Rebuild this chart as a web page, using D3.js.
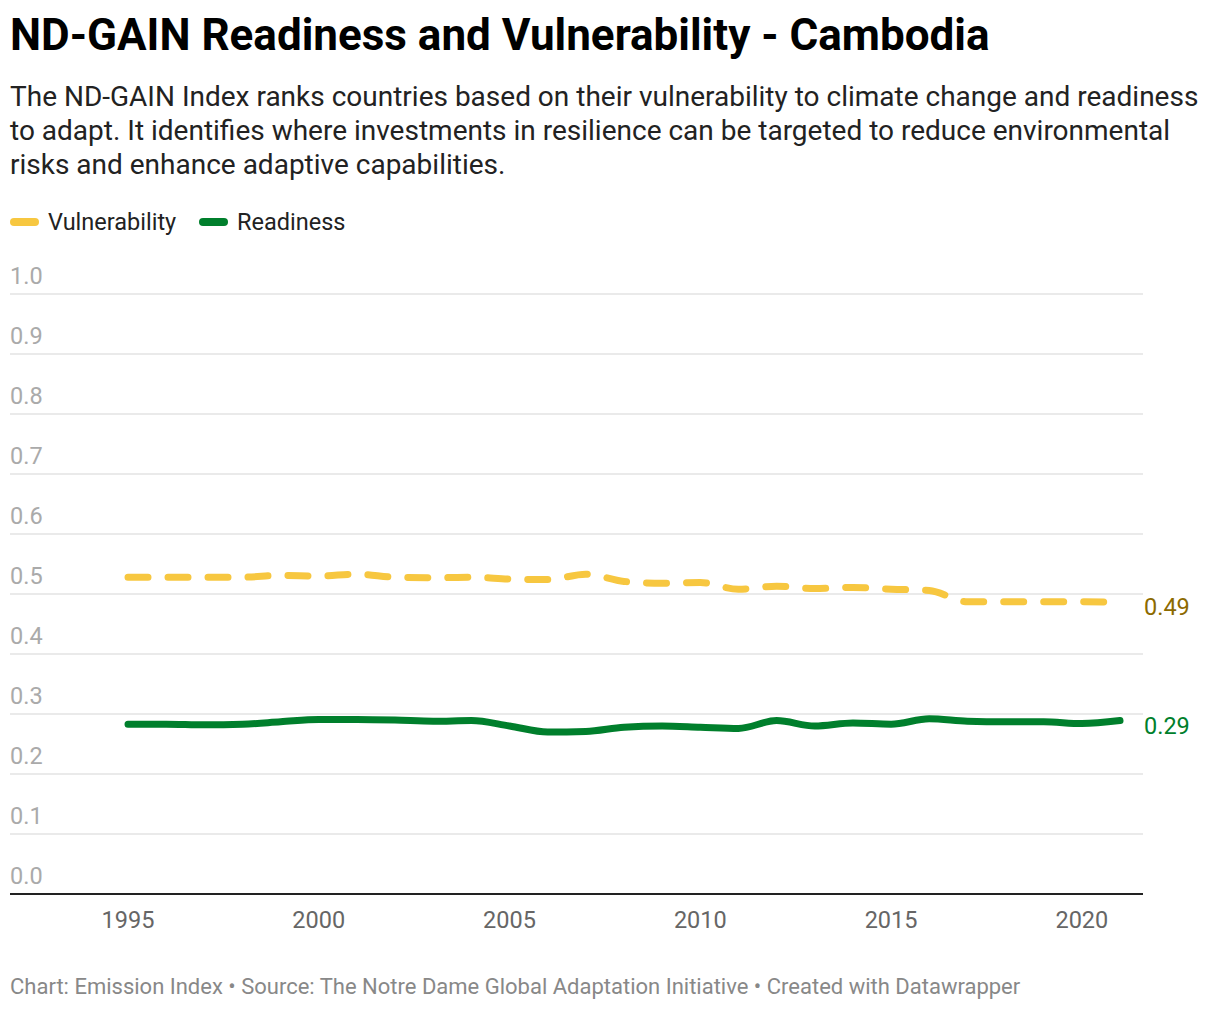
<!DOCTYPE html>
<html>
<head>
<meta charset="utf-8">
<script src="https://cdn.jsdelivr.net/npm/d3@7"></script>
<style>
  body { margin: 0; background: #fff; font-family: Roboto, "Noto Sans", sans-serif; }
</style>
</head>
<body>
<script>
// ND-GAIN scores for Cambodia
var years = [1995,1996,1997,1998,1999,2000,2001,2002,2003,2004,2005,2006,2007,2008,
             2009,2010,2011,2012,2013,2014,2015,2016,2017,2018,2019,2020,2021];
var vulnerability = [0.528,0.528,0.528,0.528,0.531,0.530,0.533,0.528,0.527,0.528,0.525,0.524,0.533,0.521,
                     0.518,0.519,0.508,0.513,0.509,0.511,0.508,0.506,0.487,0.487,0.487,0.487,0.486];
var readiness = [0.283,0.283,0.282,0.283,0.287,0.291,0.291,0.290,0.288,0.289,0.280,0.270,0.271,0.278,
                 0.280,0.278,0.276,0.289,0.280,0.285,0.283,0.292,0.288,0.287,0.287,0.284,0.289];
var yTicks = [0,0.1,0.2,0.3,0.4,0.5,0.6,0.7,0.8,0.9,1.0];
var xTicks = [1995,2000,2005,2010,2015,2020];

var width = 1220, height = 1010;
var plotLeft = 10, plotRight = 1143, plotTop = 294, plotBottom = 894;

var svg = d3.select("body").append("svg")
    .attr("width", width)
    .attr("height", height);

svg.append("text")
    .attr("x", 10).attr("y", 50)
    .attr("font-size", "44px").attr("font-weight", "700")
    .attr("fill", "#000")
    .text("ND-GAIN Readiness and Vulnerability - Cambodia");

var sub = ["The ND-GAIN Index ranks countries based on their vulnerability to climate change and readiness",
           "to adapt. It identifies where investments in resilience can be targeted to reduce environmental",
           "risks and enhance adaptive capabilities."];
svg.selectAll("text.sub").data(sub).enter().append("text")
    .attr("class", "sub")
    .attr("x", 10).attr("y", function(d, i) { return 106 + i * 34; })
    .attr("font-size", "28px").attr("fill", "#222")
    .text(function(d) { return d; });

// legend
var legend = [{name: "Vulnerability", color: "#f7c740", x: 10},
              {name: "Readiness", color: "#007f2c", x: 199}];
legend.forEach(function(l) {
  svg.append("line")
      .attr("x1", l.x + 4).attr("x2", l.x + 25)
      .attr("y1", 222).attr("y2", 222)
      .attr("stroke", l.color).attr("stroke-width", 8)
      .attr("stroke-linecap", "round");
  svg.append("text")
      .attr("x", l.x + 38).attr("y", 230)
      .attr("font-size", "23.5px").attr("fill", "#222")
      .text(l.name);
});

var x = d3.scaleLinear().domain([1995, 2021]).range([128, 1120]);
var y = d3.scaleLinear().domain([0, 1]).range([plotBottom, plotTop]);

// grid
svg.selectAll("line.grid").data(yTicks.slice(1)).enter().append("line")
    .attr("class", "grid")
    .attr("x1", plotLeft).attr("x2", plotRight)
    .attr("y1", function(d) { return y(d); })
    .attr("y2", function(d) { return y(d); })
    .attr("stroke", "#e3e3e3").attr("stroke-width", 1.5);

svg.selectAll("text.ytick").data(yTicks).enter().append("text")
    .attr("class", "ytick")
    .attr("x", plotLeft).attr("y", function(d) { return y(d) - 10; })
    .attr("font-size", "23.5px").attr("fill", "#aaa")
    .text(function(d) { return d3.format(".1f")(d); });

svg.append("line")
    .attr("x1", plotLeft).attr("x2", plotRight)
    .attr("y1", plotBottom).attr("y2", plotBottom)
    .attr("stroke", "#222").attr("stroke-width", 2);

svg.selectAll("text.xtick").data(xTicks).enter().append("text")
    .attr("class", "xtick")
    .attr("x", function(d) { return x(d); }).attr("y", 928)
    .attr("text-anchor", "middle")
    .attr("font-size", "23.5px").attr("fill", "#666")
    .text(function(d) { return d; });

var line = d3.line()
    .x(function(d, i) { return x(years[i]); })
    .y(function(d) { return y(d); })
    .curve(d3.curveMonotoneX);

svg.append("path")
    .attr("d", line(vulnerability))
    .attr("fill", "none")
    .attr("stroke", "#f7c740").attr("stroke-width", 7)
    .attr("stroke-linecap", "round")
    .attr("stroke-dasharray", "20,20");

svg.append("path")
    .attr("d", line(readiness))
    .attr("fill", "none")
    .attr("stroke", "#007f2c").attr("stroke-width", 7)
    .attr("stroke-linecap", "round");

var last = years.length - 1;
svg.append("text")
    .attr("x", 1144).attr("y", y(vulnerability[last]) + 13)
    .attr("font-size", "23.5px").attr("fill", "#8c6a00")
    .text(d3.format(".2f")(vulnerability[last]));
svg.append("text")
    .attr("x", 1144).attr("y", y(readiness[last]) + 13)
    .attr("font-size", "23.5px").attr("fill", "#007f2c")
    .text(d3.format(".2f")(readiness[last]));

svg.append("text")
    .attr("x", 10).attr("y", 994)
    .attr("font-size", "22px").attr("fill", "#888")
    .text("Chart: Emission Index \u2022 Source: The Notre Dame Global Adaptation Initiative \u2022 Created with Datawrapper");
</script>
</body>
</html>
